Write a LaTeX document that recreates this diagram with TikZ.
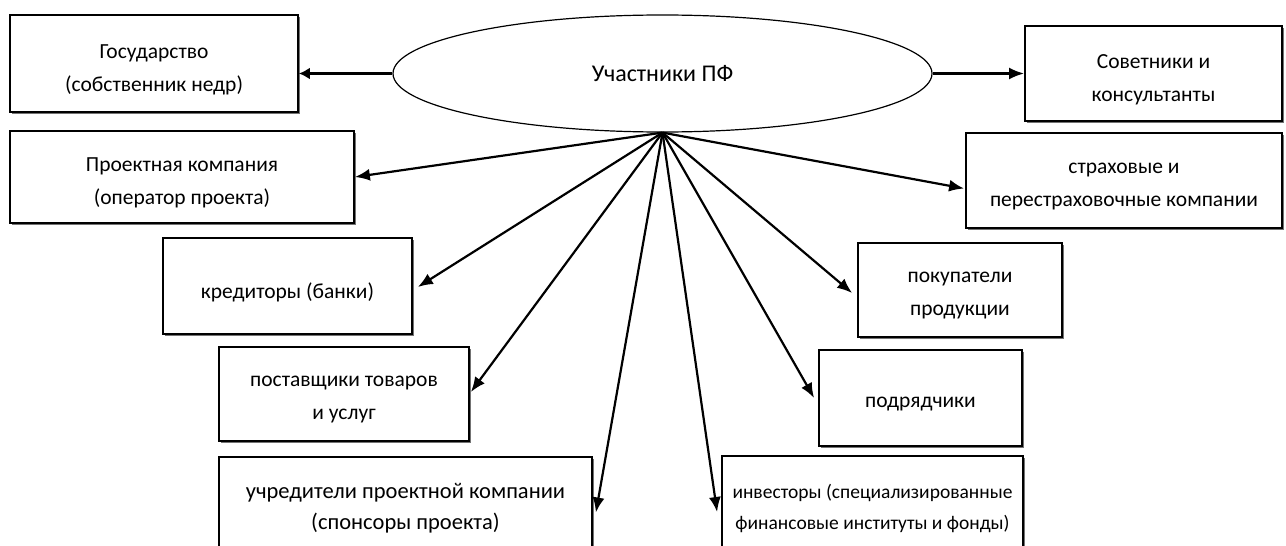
\documentclass[tikz,border=0pt]{standalone}
\usepackage{fontspec}
\setmainfont{Carlito}
\usetikzlibrary{arrows.meta,shapes.geometric,shadows,calc}
\tikzset{
  box/.style={draw, line width=1.8pt, fill=white,
    drop shadow={shadow xshift=2pt, shadow yshift=-2pt, fill=black!55, opacity=1},
    inner sep=0pt},
  txt/.style={align=center, font=\fontsize{21.5}{33}\selectfont, inner sep=0pt},
  hub/.style={ellipse, draw, line width=1.2pt, font=\fontsize{24}{34}\selectfont, inner sep=0pt},
  arr/.style={line width=2.2pt, -{Latex[length=15pt,width=12pt]}},
  thickarr/.style={line width=2.9pt, -{Latex[length=11pt,width=12pt]}},
}
\newcommand{\boxtext}[3]{\node[txt,#3] (#1T) at ($(#1.center)+(0,6)$) {#2};}
\begin{document}
\begin{tikzpicture}[x=1pt,y=-1pt]
\useasboundingbox (0,0) rectangle (1286,546);
\clip (0,0) rectangle (1286,546);
\fill[white] (0,0) rectangle (1286,546);
% centre
\node[hub, minimum width=539pt, minimum height=117pt] (e) at (662.5,73.5) {Участники ПФ};
% left boxes
\node[box, minimum width=288pt, minimum height=97pt] (gos) at (154,63.5) {};
\node[box, minimum width=344pt, minimum height=92pt] (proj) at (182,177) {};
\node[box, minimum width=249pt, minimum height=96pt] (kred) at (287.5,286) {};
\node[box, minimum width=250pt, minimum height=94pt] (post) at (344,394) {};
\node[box, minimum width=373pt, minimum height=91pt] (uch) at (405.5,502.5) {};
% right boxes
\node[box, minimum width=257pt, minimum height=95pt] (sov) at (1153.5,73.5) {};
\node[box, minimum width=316pt, minimum height=95pt] (strah) at (1124,180.5) {};
\node[box, minimum width=204pt, minimum height=94pt] (pok) at (960,290) {};
\node[box, minimum width=203pt, minimum height=96pt] (podr) at (920.5,398) {};
\node[box, minimum width=301pt, minimum height=92pt] (inv) at (872.5,502) {};
% texts
\boxtext{gos}{Государство\\(собственник недр)}{}
\boxtext{proj}{Проектная компания\\(оператор проекта)}{}
\boxtext{kred}{кредиторы (банки)}{}
\boxtext{post}{поставщики товаров\\и услуг}{}
\boxtext{uch}{учредители проектной компании\\(спонсоры проекта)}{font=\fontsize{22.5}{31}\selectfont}
\boxtext{sov}{Советники и\\консультанты}{}
\boxtext{strah}{страховые и\\перестраховочные компании}{}
\boxtext{pok}{покупатели\\продукции}{}
\boxtext{podr}{подрядчики}{}
\boxtext{inv}{инвесторы (специализированные\\финансовые институты и фонды)}{font=\fontsize{19.5}{31}\selectfont}
% connectors
\coordinate (c) at (e.south);
\draw[thickarr] (e.west) -- (e.west -| gos.east);
\draw[arr] (e.east) -- (e.east -| sov.west);
\draw[arr] (c) -- (proj.east);
\draw[arr] (c) -- ($(kred.east)+(5,1)$);
\draw[arr] (c) -- ($(post.east)+(1,-2)$);
\draw[arr] (c) -- ($(uch.east)+(3,10)$);
\draw[arr] (c) -- ($(inv.west)+(-4,10)$);
\draw[arr] (c) -- ($(podr.west)+(-4,0)$);
\draw[arr] (c) -- ($(pok.west)+(-5,3)$);
\draw[arr] (c) -- ($(strah.west)+(-1,8)$);
\end{tikzpicture}
\end{document}
